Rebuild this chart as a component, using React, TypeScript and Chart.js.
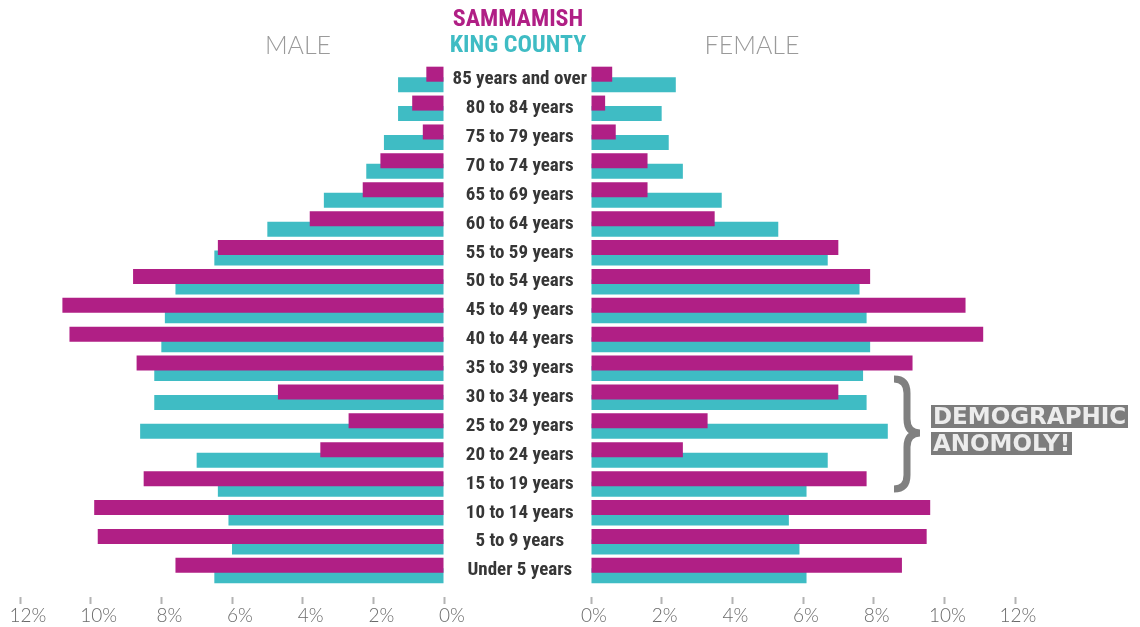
import React, { useEffect, useRef } from 'react';
import Chart from 'chart.js/auto';

const categories = [
  '85 years and over', '80 to 84 years', '75 to 79 years', '70 to 74 years',
  '65 to 69 years', '60 to 64 years', '55 to 59 years', '50 to 54 years',
  '45 to 49 years', '40 to 44 years', '35 to 39 years', '30 to 34 years',
  '25 to 29 years', '20 to 24 years', '15 to 19 years', '10 to 14 years',
  '5 to 9 years', 'Under 5 years',
];
const maleSammamish = [0.5, 0.9, 0.6, 1.8, 2.3, 3.8, 6.4, 8.8, 10.8, 10.6, 8.7, 4.7, 2.7, 3.5, 8.5, 9.9, 9.8, 7.6];
const maleKingCounty = [1.3, 1.3, 1.7, 2.2, 3.4, 5.0, 6.5, 7.6, 7.9, 8.0, 8.2, 8.2, 8.6, 7.0, 6.4, 6.1, 6.0, 6.5];
const femaleSammamish = [0.6, 0.4, 0.7, 1.6, 1.6, 3.5, 7.0, 7.9, 10.6, 11.1, 9.1, 7.0, 3.3, 2.6, 7.8, 9.6, 9.5, 8.8];
const femaleKingCounty = [2.4, 2.0, 2.2, 2.6, 3.7, 5.3, 6.7, 7.6, 7.8, 7.9, 7.7, 7.8, 8.4, 6.7, 6.1, 5.6, 5.9, 6.1];
const xTickValues = [0, 2, 4, 6, 8, 10, 12];
const seriesNames = ['SAMMAMISH', 'KING COUNTY'];

const MAGENTA = '#B01F85';
const TEAL = '#3FBCC4';
const CONDENSED = "'Roboto Condensed', 'DejaVu Sans Condensed', sans-serif";

function buildConfig(male: boolean): any {
  const a = male ? maleSammamish : femaleSammamish;
  const b = male ? maleKingCounty : femaleKingCounty;
  return {
    type: 'bar',
    data: {
      labels: categories,
      datasets: [
        { label: seriesNames[0], data: a, backgroundColor: MAGENTA, borderWidth: 0 },
        { label: seriesNames[1], data: b, backgroundColor: TEAL, borderWidth: 0 },
      ],
    },
    options: {
      indexAxis: 'y',
      animation: false,
      responsive: false,
      maintainAspectRatio: false,
      datasets: { bar: { categoryPercentage: 0.727, barPercentage: 1.43 } },
      layout: {
        padding: male
          ? { top: 65, left: 20, right: 36, bottom: 0 }
          : { top: 65, left: 0, right: 125, bottom: 0 },
      },
      plugins: { legend: { display: false }, tooltip: { enabled: false } },
      scales: {
        x: {
          type: 'linear',
          min: 0,
          max: 12,
          reverse: male,
          afterBuildTicks: (s: any) => { s.ticks = xTickValues.map((v) => ({ value: v })); },
          afterFit: (s: any) => { s.height = 42; },
          border: { display: false },
          grid: {
            display: true,
            drawOnChartArea: false,
            drawTicks: true,
            tickLength: 19,
            tickColor: '#b3b3b3',
            tickWidth: 2,
            tickBorderDash: [0, 12, 7, 100],
          },
          ticks: {
            padding: 0,
            color: '#6a6a6a',
            font: { family: 'Lato', size: 19, weight: '300' },
            labelOffset: male ? 8 : 3,
            callback: (v: any) => v + '%',
          },
        },
        y: male
          ? { display: false }
          : {
              position: 'left',
              afterFit: (s: any) => { s.width = 145; },
              border: { display: false },
              grid: { display: false, drawTicks: false },
              ticks: {
                crossAlign: 'center',
                padding: 4,
                color: '#363636',
                font: { family: CONDENSED, size: 19, weight: 'bold' },
                autoSkip: false,
              },
            },
      },
    },
  };
}

function PyramidHalf({ male, left, width }: { male: boolean; left: number; width: number }) {
  const ref = useRef<HTMLCanvasElement>(null);
  useEffect(() => {
    const chart = new Chart(ref.current as HTMLCanvasElement, buildConfig(male));
    return () => chart.destroy();
  }, [male]);
  return (
    <canvas
      ref={ref}
      width={width}
      height={627}
      style={{ position: 'absolute', left, top: 0, width, height: 627 }}
    />
  );
}

export default function App() {
  const boxStyle: React.CSSProperties = {
    position: 'absolute',
    left: 931,
    background: '#7c7c7c',
    color: '#ececec',
    fontFamily: "'DejaVu Sans', sans-serif",
    fontWeight: 'bold',
    fontSize: 23,
    letterSpacing: 0,
    lineHeight: '23px',
    height: 23,
    padding: '0 2px',
    whiteSpace: 'nowrap',
  };
  const titleStyle: React.CSSProperties = {
    position: 'absolute', left: 418, width: 200, textAlign: 'center',
    fontFamily: CONDENSED, fontWeight: 'bold', fontSize: 24, lineHeight: '26px',
  };
  const sideStyle: React.CSSProperties = {
    position: 'absolute', width: 200, top: 29, textAlign: 'center',
    fontFamily: 'Lato', fontWeight: 300, fontSize: 25, lineHeight: '30px', color: '#9a9a9a',
  };
  return (
    <div style={{ position: 'absolute', left: 0, top: 0, width: 1140, height: 627, background: '#fff', overflow: 'hidden' }}>
      <PyramidHalf male={true} left={0} width={480} />
      <PyramidHalf male={false} left={446} width={694} />
      <div style={{ ...titleStyle, top: 5, color: MAGENTA }}>{seriesNames[0]}</div>
      <div style={{ ...titleStyle, top: 31, color: TEAL }}>{seriesNames[1]}</div>
      <div style={{ ...sideStyle, left: 198 }}>MALE</div>
      <div style={{ ...sideStyle, left: 652 }}>FEMALE</div>
      <svg style={{ position: 'absolute', left: 0, top: 0 }} width={1140} height={627}>
        <path
          d="M 894 379 Q 907 379 907 393 L 907 419 Q 907 433 920 433 Q 907 433 907 447 L 907 475 Q 907 489 894 489"
          fill="none"
          stroke="#808080"
          strokeWidth={7}
        />
      </svg>
      <div style={{ ...boxStyle, top: 405 }}>DEMOGRAPHIC</div>
      <div style={{ ...boxStyle, top: 432 }}>ANOMOLY!</div>
    </div>
  );
}
